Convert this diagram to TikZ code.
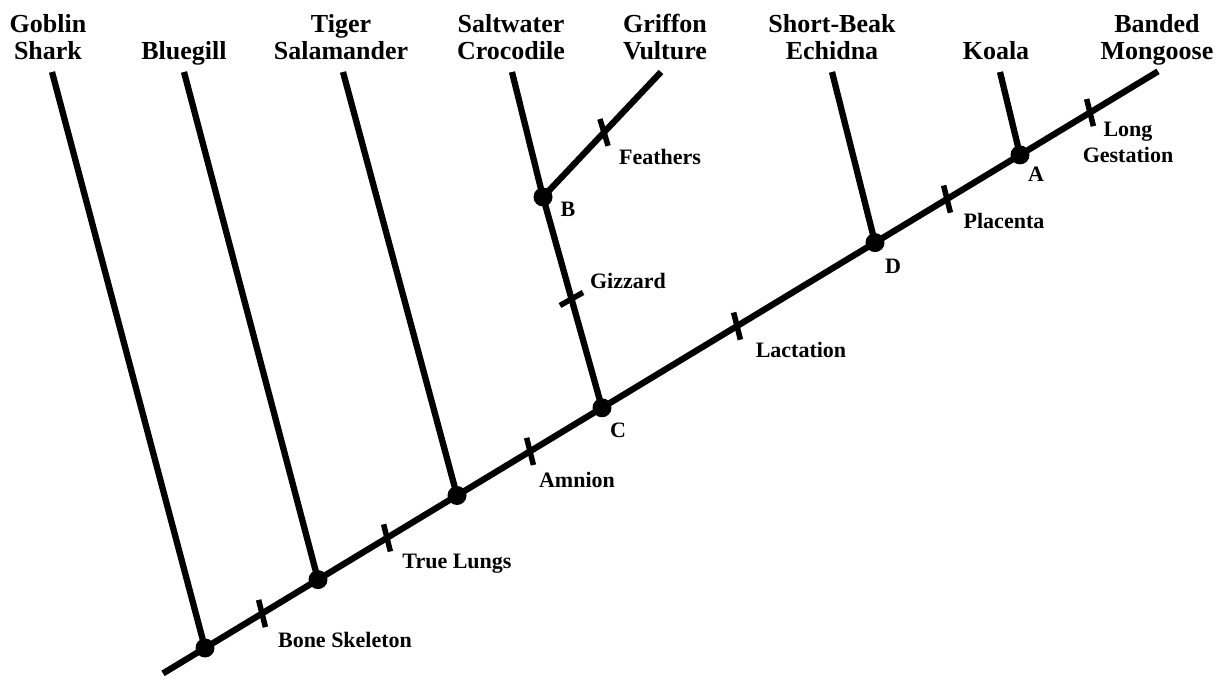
\documentclass[tikz,border=0pt]{standalone}
\usepackage{fontspec}
\setmainfont{Liberation Serif}
\begin{document}
\begin{tikzpicture}[x=1pt,y=-1pt,
  br/.style={line width=6.3pt},
  tk/.style={line width=5.5pt},
  dot/.style={circle,fill=black,inner sep=0pt,minimum size=19pt},
  top/.style={align=center,font=\fontsize{26}{27.5}\selectfont\bfseries,inner sep=0pt},
  sm/.style={align=center,font=\fontsize{22}{26}\selectfont\bfseries,inner sep=0pt}]
\useasboundingbox (0,0) rectangle (1224,679);
% main line nodes
\coordinate (root) at (163,673.4);
\node[dot] (G) at (205,648) {};
\node[dot] (Bl) at (318,579.6) {};
\node[dot] (T) at (457,495.5) {};
\node[dot] (C) at (602,407.8) {};
\node[dot] (D) at (875,242.6) {};
\node[dot] (A) at (1020,154.9) {};
\node[dot] (B) at (543,197) {};
\coordinate (mong) at (1158,71.4);
% leaf tips
\coordinate (gob) at (52,72);
\coordinate (blue) at (184,72);
\coordinate (tig) at (343,72);
\coordinate (salt) at (512,72);
\coordinate (grif) at (661,72);
\coordinate (ech) at (832,72);
\coordinate (koa) at (1000,72);
% branches
\draw[br] (root) -- (G.center) -- (Bl.center) -- (T.center) -- (C.center) -- (D.center) -- (A.center) -- (mong);
\draw[br] (gob) -- (G.center);
\draw[br] (blue) -- (Bl.center);
\draw[br] (tig) -- (T.center);
\draw[br] (salt) -- (B.center) -- (C.center);
\draw[br] (grif) -- (B.center);
\draw[br] (ech) -- (D.center);
\draw[br] (koa) -- (A.center);
% ticks
\foreach \x/\y in {262/613.5,387/537.9,530/451.4,737/326.1,947/199.1,1090/112.6}
  \draw[tk] (\x-3.4,\y-13.6) -- (\x+3.4,\y+13.6);
\draw[tk] (604-4.1,132.4-13.4) -- (604+4.1,132.4+13.4);
\draw[tk] (571.5-11.5,299+6.5) -- (571.5+11.5,299-6.5);
% top labels
\node[top,anchor=base] (lgob) at (48,60) {Goblin\\Shark};
\node[top,anchor=base] (lblue) at (184,60) {Bluegill};
\node[top,anchor=base] (ltig) at (341,60) {Tiger\\Salamander};
\node[top,anchor=base] (lsalt) at (511,60) {Saltwater\\Crocodile};
\node[top,anchor=base] (lgrif) at (665,60) {Griffon\\Vulture};
\node[top,anchor=base] (lech) at (832,60) {Short-Beak\\Echidna};
\node[top,anchor=base] (lkoa) at (996,60) {Koala};
\node[top,anchor=base] (lmong) at (1157,60) {Banded\\Mongoose};
% character labels
\node[sm,anchor=base] (l1) at (345,647) {Bone Skeleton};
\node[sm,anchor=base] (l2) at (457,568) {True Lungs};
\node[sm,anchor=base] (l3) at (577,487) {Amnion};
\node[sm,anchor=base] (l4) at (628,288) {Gizzard};
\node[sm,anchor=base] (l5) at (660,165) {Feathers};
\node[sm,anchor=base] (l6) at (801,357) {Lactation};
\node[sm,anchor=base] (l7) at (1004,229) {Placenta};
\node[sm,anchor=base] (l8) at (1128,163) {Long\\Gestation};
% node letters
\node[sm,anchor=base] (lA) at (1036,182) {A};
\node[sm,anchor=base] (lB) at (568,217) {B};
\node[sm,anchor=base] (lC) at (618,437) {C};
\node[sm,anchor=base] (lD) at (893,273) {D};
\end{tikzpicture}
\end{document}
